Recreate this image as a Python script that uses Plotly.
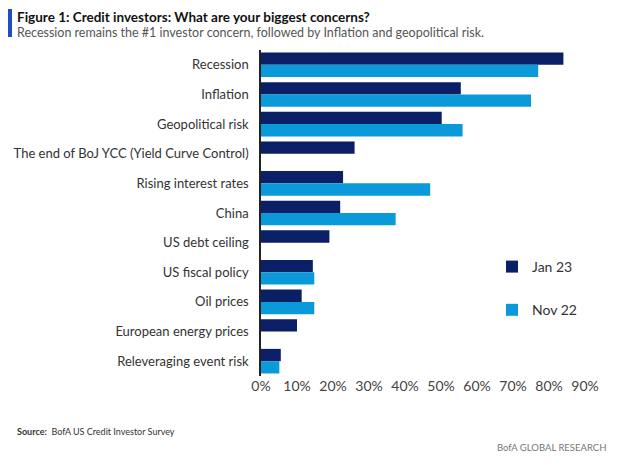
import plotly.graph_objects as go

categories = [
    "Recession",
    "Inflation",
    "Geopolitical risk",
    "The end of BoJ YCC (Yield Curve Control)",
    "Rising interest rates",
    "China",
    "US debt ceiling",
    "US fiscal policy",
    "Oil prices",
    "European energy prices",
    "Releveraging event risk",
]
jan23 = [84, 55.5, 50.2, 26, 22.8, 22, 19, 14.4, 11.3, 10, 5.5]
nov22 = [77, 75, 56, None, 47, 37.4, None, 14.8, 14.8, None, 5.1]
tick_vals = [0, 10, 20, 30, 40, 50, 60, 70, 80, 90]
tick_text = ["0%", "10%", "20%", "30%", "40%", "50%", "60%", "70%", "80%", "90%"]

NAVY = "#0a1f66"
LIGHT = "#0a9ad9"
FONT = "Lato, Roboto, Arial, sans-serif"

OFF = 8  # page body margin
W, H = 621 - OFF, 463 - OFF
L, R, T, B = 261 - OFF, 585 - OFF, 50 - OFF, 376 - OFF
PW, PH = R - L, B - T


def px(x):
    return (x - OFF - L) / PW


def py(y):
    return (B - (y - OFF)) / PH


fig = go.Figure()
fig.add_trace(go.Bar(y=categories, x=jan23, name="Jan 23", orientation="h",
                     marker=dict(color=NAVY, line=dict(width=0)), legendgroup="a"))
fig.add_trace(go.Bar(y=categories, x=nov22, name="Nov 22", orientation="h",
                     marker=dict(color=LIGHT, line=dict(width=0)), legendgroup="b"))

fig.update_layout(
    width=W, height=H,
    margin=dict(l=L, r=W - R, t=T, b=H - B, autoexpand=False),
    paper_bgcolor="white", plot_bgcolor="white",
    barmode="group", bargap=0.17, bargroupgap=0,
    font=dict(family=FONT, size=13, color="#333333"),
    showlegend=True,
    legend=dict(x=px(492), y=py(251), xanchor="left", yanchor="top",
                traceorder="grouped", tracegroupgap=22,
                font=dict(family=FONT, size=14, color="#333333"),
                bgcolor="rgba(0,0,0,0)"),
    xaxis=dict(range=[0, 90], tickvals=tick_vals, ticktext=tick_text,
               showgrid=False, zeroline=False, showline=False, automargin=False,
               ticks="", tickfont=dict(family=FONT, size=14, color="#444444")),
    yaxis=dict(autorange="reversed", showgrid=False, zeroline=False, automargin=False,
               showline=True, linecolor="#222222", linewidth=1.5,
               ticks="", ticklabelstandoff=8,
               tickfont=dict(family=FONT, size=13, color="#333333")),
    shapes=[dict(type="rect", xref="paper", yref="paper",
                 x0=px(8), x1=px(12), y0=py(9), y1=py(37),
                 fillcolor="#1f4fbf", line=dict(width=0))],
    annotations=[
        dict(text="<b>Figure 1: Credit investors: What are your biggest concerns?</b>",
             xref="paper", yref="paper", x=px(15), y=py(17),
             xanchor="left", yanchor="middle", showarrow=False,
             font=dict(family=FONT, size=13.5, color="#111111")),
        dict(text="Recession remains the #1 investor concern, followed by Inflation and geopolitical risk.",
             xref="paper", yref="paper", x=px(15), y=py(32),
             xanchor="left", yanchor="middle", showarrow=False,
             font=dict(family=FONT, size=12.5, color="#555555")),
        dict(text="<b>Source:</b>  BofA US Credit Investor Survey",
             xref="paper", yref="paper", x=px(15), y=py(432),
             xanchor="left", yanchor="middle", showarrow=False,
             font=dict(family=FONT, size=9, color="#333333")),
        dict(text="BofA GLOBAL RESEARCH",
             xref="paper", yref="paper", x=px(608), y=py(447),
             xanchor="right", yanchor="middle", showarrow=False,
             font=dict(family=FONT, size=9.5, color="#777777")),
    ],
)

fig.write_html("out.html")
